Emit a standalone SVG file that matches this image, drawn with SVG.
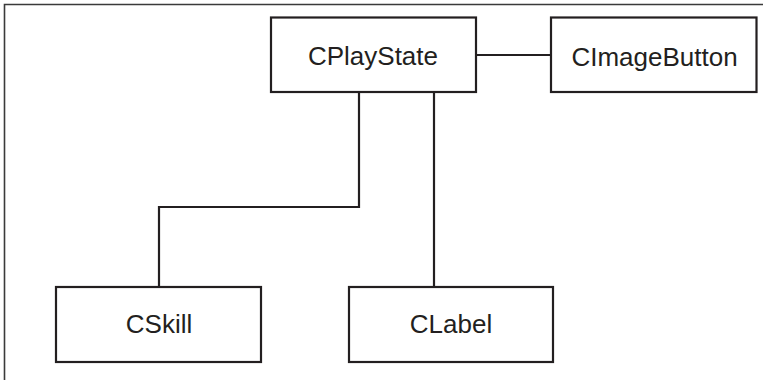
<svg xmlns="http://www.w3.org/2000/svg" width="763" height="380" viewBox="0 0 763 380">
<style>
.box{fill:#fff;stroke:#231f20;stroke-width:2.2}
.lbl{font-family:"Liberation Sans",Arial,sans-serif;font-size:26px;fill:#231f20;text-anchor:middle}
.conn{fill:none;stroke:#231f20;stroke-width:2.2}
.frame{fill:none;stroke:#3a3a3a;stroke-width:1.6}
</style>
<rect width="763" height="380" fill="#fff"/>
<path class="frame" d="M4.5,380 V4.5 H763"/>
<g id="connectors">
<path class="conn" d="M476,55 H551"/>
<path class="conn" d="M359,92 V207 H159 V287"/>
<path class="conn" d="M434,92 V287"/>
</g>
<g id="CPlayState">
<rect class="box" x="271" y="17.5" width="205" height="74.5"/>
<text class="lbl" x="373" y="65">CPlayState</text>
</g>
<g id="CImageButton">
<rect class="box" x="551" y="17.5" width="205.5" height="74.5"/>
<text class="lbl" x="654.5" y="65.5">CImageButton</text>
</g>
<g id="CSkill">
<rect class="box" x="56" y="287" width="205" height="75"/>
<text class="lbl" x="159" y="333">CSkill</text>
</g>
<g id="CLabel">
<rect class="box" x="349" y="287" width="204" height="75"/>
<text class="lbl" x="451" y="333">CLabel</text>
</g>
</svg>
